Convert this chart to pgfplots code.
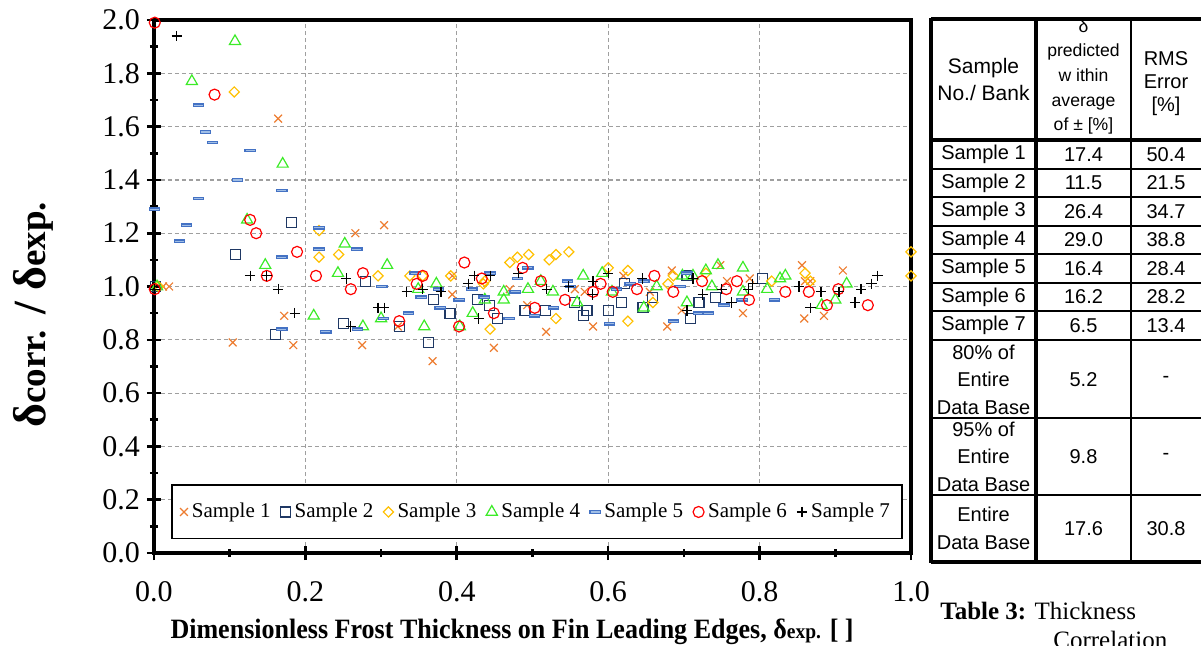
\documentclass[border=0pt]{standalone}
\usepackage{pgfplots}
\pgfplotsset{compat=1.18}
\usepackage{fontspec}
\setmainfont{Liberation Serif}
\newfontfamily\arial{Liberation Sans}

\definecolor{sone}{RGB}{237,125,49}
\definecolor{stwo}{RGB}{31,56,100}
\definecolor{sthree}{RGB}{255,192,0}
\definecolor{sfour}{RGB}{60,235,40}
\definecolor{sfiveD}{RGB}{68,114,196}
\definecolor{sfiveF}{RGB}{160,190,230}

% flat hollow bar used for sample 5
\pgfdeclareplotmark{hbar}{%
  \pgfpathrectangle{\pgfpoint{-1.9\pgfplotmarksize}{-0.45\pgfplotmarksize}}%
    {\pgfpoint{3.8\pgfplotmarksize}{0.9\pgfplotmarksize}}%
  \pgfusepathqfillstroke}

\begin{document}
\begin{tikzpicture}
\useasboundingbox (-77pt,-46pt) rectangle (523.5pt,276.5pt);
\begin{axis}[
  at={(0,0)}, anchor=south west, scale only axis,
  width=378.5pt, height=266.5pt,
  xmin=0, xmax=1, ymin=0, ymax=2,
  clip=false,
  xtick={0,0.2,0.4,0.6,0.8,1.0},
  ytick={0,0.2,0.4,0.6,0.8,1.0,1.2,1.4,1.6,1.8,2.0},
  minor xtick={0.1,0.3,0.5,0.7,0.9},
  minor ytick={0.1,0.3,0.5,0.7,0.9,1.1,1.3,1.5,1.7,1.9},
  tick pos=left, tick align=center,
  major tick length=7pt, minor tick length=4pt,
  every tick/.style={black, line width=1.3pt},
  axis line style={line width=1.6pt},
  grid=major,
  major grid style={dash pattern=on 2pt off 1.5pt, gray!75, line width=0.6pt},
  tick label style={font=\fontsize{15}{15}\selectfont},
  xticklabel style={/pgf/number format/.cd, fixed, fixed zerofill, precision=1, assume math mode=true, /tikz/.cd, yshift=-7pt},
  yticklabel style={/pgf/number format/.cd, fixed, fixed zerofill, precision=1, assume math mode=true},
  xlabel={\scalebox{0.93}[1]{\fontsize{14}{14}\selectfont\bfseries Dimensionless Frost Thickness on Fin Leading Edges, δ{\fontsize{10.5}{10.5}\selectfont exp.} [ ]}},
  xlabel style={at={(axis description cs:0.473,-0.148)}, anchor=center},
  ylabel={\fontsize{23}{23}\selectfont\bfseries δ{\fontsize{18.5}{18.5}\selectfont corr.} / δ{\fontsize{18.5}{18.5}\selectfont exp.}},
  ylabel style={at={(axis description cs:-0.16,0.447)}, anchor=center},
  legend columns=7,
  legend style={at={(0.506,0.077)}, anchor=center, draw=black, line width=0.7pt,
    font=\fontsize{10.5}{12}\selectfont, inner ysep=7pt, inner xsep=4pt,
    /tikz/every even column/.append style={column sep=3pt}},
]
\addplot[only marks, mark=x, color=sone, mark size=2.75pt, line width=0.6pt] coordinates {
(0.012,1.00) (0.02,1.00) (0.104,0.79) (0.164,1.63) (0.172,0.89) (0.184,0.78)
(0.266,1.20) (0.275,0.78) (0.304,1.23) (0.322,0.85) (0.368,0.72) (0.394,1.04)
(0.394,0.97) (0.449,0.77) (0.47,0.99) (0.493,0.93) (0.518,0.83) (0.556,0.99)
(0.569,0.98) (0.58,0.85) (0.62,1.04) (0.655,0.98) (0.678,0.85) (0.684,1.06)
(0.697,0.91) (0.748,1.08) (0.757,1.02) (0.778,0.90) (0.787,1.03) (0.856,1.08)
(0.86,1.02) (0.867,1.02) (0.859,0.88) (0.885,0.89) (0.91,1.06)};
\addlegendentry{Sample 1}
\addplot[only marks, mark=square, color=stwo, mark size=2.5pt, line width=0.6pt] coordinates {
(0.002,1.00) (0.108,1.12) (0.16,0.82) (0.182,1.24) (0.25,0.86) (0.279,1.02)
(0.324,0.85) (0.363,0.79) (0.369,0.95) (0.391,0.90) (0.427,0.95) (0.443,0.93)
(0.454,0.88) (0.49,0.91) (0.517,0.91) (0.556,0.94) (0.567,0.89) (0.572,0.91)
(0.6,0.91) (0.618,0.94) (0.622,1.01) (0.646,0.92) (0.658,0.96) (0.704,1.04)
(0.709,0.88) (0.72,0.94) (0.742,0.96) (0.804,1.03)};
\addlegendentry{Sample 2}
\addplot[only marks, mark=square, mark options={rotate=45}, color=sthree, mark size=1.8pt, line width=0.6pt] coordinates {
(0.006,1.00) (0.106,1.73) (0.218,1.21) (0.218,1.11) (0.244,1.12) (0.296,1.04)
(0.338,1.04) (0.355,1.04) (0.392,1.04) (0.435,1.01) (0.437,1.02) (0.444,0.84)
(0.47,1.09) (0.48,1.11) (0.495,1.12) (0.522,1.10) (0.531,1.12) (0.531,0.88)
(0.548,1.13) (0.6,1.07) (0.626,1.06) (0.626,0.87) (0.659,0.94) (0.679,1.01)
(0.686,1.04) (0.729,1.05) (0.816,1.02) (0.86,1.05) (0.867,1.02) (1.0,1.13) (1.0,1.04)};
\addlegendentry{Sample 3}
\addplot[only marks, mark=triangle, color=sfour, mark size=3.2pt, line width=0.6pt] coordinates {
(0.004,1.00) (0.05,1.77) (0.107,1.92) (0.123,1.25) (0.147,1.08) (0.17,1.46)
(0.211,0.89) (0.243,1.05) (0.252,1.16) (0.276,0.85) (0.3,0.88) (0.308,1.08)
(0.349,0.99) (0.357,0.85) (0.373,1.01) (0.404,0.85) (0.421,0.90) (0.437,0.95)
(0.462,0.98) (0.462,0.95) (0.494,0.99) (0.511,1.02) (0.527,0.98) (0.559,0.94)
(0.567,1.04) (0.592,1.05) (0.605,0.98) (0.647,0.92) (0.664,1.00) (0.698,1.04)
(0.704,0.94) (0.712,1.04) (0.729,1.06) (0.737,1.00) (0.745,1.08) (0.778,1.07)
(0.778,0.98) (0.81,0.99) (0.827,1.03) (0.834,1.04) (0.882,0.93) (0.9,0.95) (0.915,1.01)};
\addlegendentry{Sample 4}
\addplot[only marks, mark=hbar, mark size=1.35pt, line width=0.6pt, mark options={draw=sfiveD, fill=sfiveF}] coordinates {
(0.001,1.29) (0.034,1.17) (0.043,1.23) (0.059,1.68) (0.059,1.33) (0.068,1.58)
(0.077,1.54) (0.11,1.40) (0.127,1.51) (0.169,1.36) (0.169,1.11) (0.169,0.84)
(0.218,1.22) (0.218,1.14) (0.227,0.83) (0.268,1.14) (0.269,0.84) (0.301,1.00)
(0.303,0.88) (0.336,0.90) (0.345,1.05) (0.353,0.96) (0.376,0.99) (0.378,0.92)
(0.403,0.95) (0.42,0.99) (0.436,0.96) (0.444,1.05) (0.469,0.88) (0.477,0.98)
(0.48,1.03) (0.494,1.07) (0.503,0.89) (0.528,0.92) (0.546,1.02) (0.55,1.00)
(0.602,0.86) (0.611,0.99) (0.629,1.01) (0.647,1.02) (0.686,0.87) (0.695,1.00)
(0.704,1.05) (0.719,0.90) (0.732,0.90) (0.753,0.93) (0.777,0.95) (0.82,0.95)};
\addlegendentry{Sample 5}
\addplot[only marks, mark=o, color=red, mark size=2.75pt, line width=0.6pt] coordinates {
(0.001,1.99) (0.001,0.99) (0.08,1.72) (0.127,1.25) (0.135,1.20) (0.149,1.04)
(0.189,1.13) (0.214,1.04) (0.26,0.99) (0.276,1.05) (0.324,0.87) (0.347,1.01)
(0.355,1.04) (0.403,0.85) (0.41,1.09) (0.433,1.03) (0.449,0.90) (0.487,1.07)
(0.503,0.92) (0.511,1.02) (0.543,0.95) (0.58,0.98) (0.59,1.01) (0.606,0.98)
(0.638,0.99) (0.661,1.04) (0.686,0.98) (0.724,1.02) (0.756,0.99) (0.77,1.02)
(0.786,0.95) (0.834,0.98) (0.865,0.98) (0.889,0.93) (0.904,0.99) (0.943,0.93)};
\addlegendentry{Sample 6}
\addplot[only marks, mark=+, color=black, mark size=2.6pt, line width=0.6pt] coordinates {
(0.001,0.99) (0.03,1.94) (0.127,1.04) (0.149,1.04) (0.164,0.99) (0.186,0.90)
(0.254,1.03) (0.26,0.85) (0.296,0.92) (0.304,0.92) (0.334,0.98) (0.355,0.99)
(0.379,0.98) (0.415,1.01) (0.423,1.04) (0.429,0.88) (0.444,1.04) (0.481,1.05)
(0.519,0.99) (0.548,1.00) (0.579,0.97) (0.58,1.02) (0.6,1.05) (0.645,1.03)
(0.704,0.91) (0.712,1.03) (0.725,0.97) (0.75,0.99) (0.763,0.94) (0.785,0.99)
(0.791,1.01) (0.852,1.00) (0.867,0.92) (0.881,0.98) (0.905,0.98) (0.926,0.94)
(0.934,0.99) (0.948,1.01) (0.956,1.04)};
\addlegendentry{Sample 7}
\end{axis}

% table 3, drawn in pixel units of the reference
\begin{scope}[shift={(-77pt,276.5pt)}, x=0.5pt, y=-0.5pt]
\draw[line width=1.6pt] (931,19) -- (1215,19);
\draw[line width=1.6pt] (931,140) -- (1215,140);
\draw[line width=1.6pt] (931,562) -- (1215,562);
\foreach \yy in {169,197,226,254,283,311,340,418,495}
  \draw[line width=1pt] (931,\yy) -- (1215,\yy);
\draw[line width=1.6pt] (931,18) -- (931,563);
\draw[line width=1.6pt] (1036,18) -- (1036,563);
\draw[line width=1.1pt] (1131,18) -- (1131,563);
\begin{scope}[every node/.style={font=\arial\fontsize{10}{13.8}\selectfont, align=center, inner sep=0pt}]
\node[font=\arial\fontsize{10.5}{13.5}\selectfont] at (983.5,79) {Sample\\No./ Bank};
\node[font=\arial\fontsize{8.8}{12.3}\selectfont] at (1083.5,77) {δ\\predicted\\w ithin\\average\\of ± [\%]};
\node[font=\arial\fontsize{10}{11.5}\selectfont] at (1166,84) {RMS\\Error\\{[\%]}};
\foreach \r/\a/\b/\c in {154.5/1/17.4/50.4, 183/2/11.5/21.5, 211.5/3/26.4/34.7,
  240/4/29.0/38.8, 268.5/5/16.4/28.4, 297/6/16.2/28.2, 325.5/7/6.5/13.4} {
  \node at (983.5,\r) {Sample \a};
  \node at (1083.5,\r) {\b};
  \node at (1166,\r) {\c};
}
\node at (983.5,379.5) {80\% of\\Entire\\Data Base};
\node at (1083.5,379.5) {5.2};
\node at (1166,379.5) {-};
\node at (983.5,456.5) {95\% of\\Entire\\Data Base};
\node at (1083.5,456.5) {9.8};
\node at (1166,456.5) {-};
\node at (983.5,528.5) {Entire\\Data Base};
\node at (1083.5,528.5) {17.6};
\node at (1166,528.5) {30.8};
\end{scope}
\node[anchor=base west, inner sep=0pt, font=\fontsize{12.5}{14}\selectfont] at (940,619) {\textbf{Table 3:} Thickness};
\node[anchor=base west, inner sep=0pt, font=\fontsize{12.5}{14}\selectfont] at (1053,648) {Correlation};
\end{scope}
\end{tikzpicture}
\end{document}
